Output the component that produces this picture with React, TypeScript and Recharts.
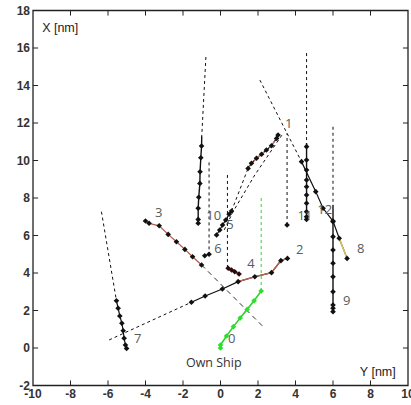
import { ReferenceArea, ReferenceLine, Scatter, ScatterChart, XAxis, YAxis } from "recharts";

// horizontal axis is "Y [nm]" (key y), vertical axis is "X [nm]" (key x)
type Pt = { y: number; x: number };
type Lbl = Pt & { text: string };
const p = (y: number, x: number): Pt => ({ y, x });

const yTicks = [-10, -8, -6, -4, -2, 0, 2, 4, 6, 8, 10];
const xTicks = [-2, 0, 2, 4, 6, 8, 10, 12, 14, 16, 18];

const ownShip = [p(0, 0), p(0, 0.16), p(0.32, 0.64), p(0.69, 1.14), p(1.05, 1.6), p(1.42, 2.06), p(1.79, 2.52), p(2.17, 3.04)];
const ownShipPred = [p(2.17, 3.04), p(2.17, 8.05)];

const t1Pred = [p(3.55, 6.56), p(3.55, 11.45)];
const t1 = [p(3.55, 6.56)];

const t2Pred = [p(-5.94, 0.43), p(-1.55, 2.44)];
const t2 = [p(-1.55, 2.44), p(-0.82, 2.77), p(0.1, 3.15), p(0.94, 3.54), p(1.83, 3.8), p(2.72, 4.02), p(3.22, 4.66), p(3.57, 4.78)];
const t2Brown = [p(0.94, 3.54), p(1.83, 3.8), p(2.72, 4.02), p(3.22, 4.66), p(3.57, 4.78)];

const t3 = [p(-4.0, 6.77), p(-3.81, 6.65), p(-3.27, 6.52), p(-2.79, 6.06), p(-2.35, 5.67), p(-1.9, 5.26), p(-1.49, 4.87), p(-1.01, 4.43)];
const t3Pred = [p(-1.01, 4.43), p(2.27, 1.14)];

const t4Pred = [p(0.37, 9.23), p(0.37, 4.3)];
const t4 = [p(0.41, 4.25), p(0.59, 4.16), p(0.76, 4.07), p(0.99, 3.95)];
const t4Line = [p(0.37, 4.3), p(0.41, 4.25), p(0.59, 4.16), p(0.76, 4.07), p(0.99, 3.95)];

const t5Low = [p(-0.21, 6.03), p(-0.04, 6.29), p(0.11, 6.56), p(0.28, 6.83), p(0.46, 7.13), p(0.59, 7.31)];
const t5Gap = [p(0.59, 7.31), p(1.47, 9.58)];
const t5High = [p(1.47, 9.58), p(1.65, 9.85), p(1.92, 10.12), p(2.19, 10.33), p(2.45, 10.56), p(2.72, 10.79), p(2.99, 11.18), p(3.07, 11.36)];
const t5Pred = [p(0.2, 6.3), p(0.67, 7.27), p(1.83, 9.23), p(3.34, 11.45)];

const t6Pred = [p(-0.61, 9.9), p(-0.61, 5.0)];
const t6 = [p(-0.61, 5.0), p(-0.84, 4.92)];

const t7Pred = [p(-6.35, 7.27), p(-5.55, 2.52)];
const t7 = [p(-5.55, 2.52), p(-5.46, 2.12), p(-5.37, 1.71), p(-5.26, 1.32), p(-5.19, 0.92), p(-5.14, 0.52), p(-5.07, 0.16), p(-5.01, -0.02)];

const t8Pred = [p(2.1, 14.29), p(4.32, 9.94)];
const t8 = [p(4.32, 9.94), p(5.08, 8.34), p(5.47, 7.45), p(6.0, 6.77), p(6.33, 5.85), p(6.75, 4.78)];
const t8Tail = [p(6.33, 5.85), p(6.75, 4.78)];

const t9Pred = [p(6.0, 11.8), p(6.0, 7.63)];
const t9Line = [p(6.0, 7.63), p(6.0, 1.94)];
const t9 = [p(6.0, 6.74), p(6.0, 5.94), p(6.0, 5.23), p(6.0, 4.52), p(6.0, 3.8), p(6.0, 3.0), p(6.0, 2.29), p(6.0, 2.12), p(6.0, 1.94)];

const t10Pred = [p(-0.78, 15.52), p(-1.0, 11.3)];
const t10Line = [p(-1.0, 11.3), p(-1.01, 10.77), p(-1.05, 10.15), p(-1.09, 9.4), p(-1.1, 8.78), p(-1.16, 8.04), p(-1.19, 7.45), p(-1.19, 6.86), p(-1.19, 6.65)];
const t10 = t10Line.slice(1);

const t11Pred = [p(4.59, 15.73), p(4.59, 10.93)];
const t11Line = [p(4.59, 10.93), p(4.59, 6.86)];
const t11 = [10.74, 10.03, 9.49, 8.96, 8.6, 8.16, 7.72, 7.27, 7.0, 6.86].map((x) => p(4.59, x));

const trackLabels: Lbl[] = [
  { y: 0.6, x: 0.53, text: "0" },
  { y: 3.64, x: 12.0, text: "1" },
  { y: 4.23, x: 5.28, text: "2" },
  { y: -3.29, x: 7.25, text: "3" },
  { y: 1.62, x: 4.53, text: "4" },
  { y: 0.5, x: 6.61, text: "5" },
  { y: -0.14, x: 5.33, text: "6" },
  { y: -4.41, x: 0.53, text: "7" },
  { y: 7.48, x: 5.33, text: "8" },
  { y: 6.73, x: 2.56, text: "9" },
  { y: -0.36, x: 7.09, text: "10" },
  { y: 4.5, x: 7.09, text: "11" },
  { y: 5.56, x: 7.41, text: "12" },
];
const shipLabel: Lbl[] = [{ y: -0.36, x: -0.75, text: "Own Ship" }];
const axisTitles: Lbl[] = [
  { y: -8.55, x: 17.07, text: "X [nm]" },
  { y: 8.39, x: -1.28, text: "Y [nm]" },
];

const BLACK = "#111";
const DASH = "3 3";

const diamond = (color: string, r = 2.8) => (props: any) => {
  const { cx, cy } = props;
  return <path d={`M${cx},${cy - r}L${cx + r},${cy}L${cx},${cy + r}L${cx - r},${cy}Z`} fill={color} />;
};
const noMarker = () => <g />;

const lines: { data: Pt[]; stroke: string; dash?: string; width?: number }[] = [
  { data: t1Pred, stroke: BLACK, dash: DASH },
  { data: t2Pred, stroke: BLACK, dash: DASH },
  { data: t2, stroke: BLACK, width: 1.2 },
  { data: t2Brown, stroke: "#b8654e", width: 1.4 },
  { data: t3Pred, stroke: "#333", dash: "5 4" },
  { data: t3, stroke: "#b0604c", width: 1.3 },
  { data: t4Pred, stroke: BLACK, dash: DASH },
  { data: t4Line, stroke: "#5a2020", width: 1.6 },
  { data: t5Pred, stroke: BLACK, dash: DASH },
  { data: t5Gap, stroke: BLACK, dash: DASH },
  { data: t5Low, stroke: BLACK, width: 1.2 },
  { data: t5High, stroke: BLACK, width: 1.2 },
  { data: t5High, stroke: "#d9786a", dash: "3 2", width: 1.4 },
  { data: t6Pred, stroke: BLACK, dash: DASH },
  { data: t6, stroke: BLACK, width: 1.2 },
  { data: t7Pred, stroke: BLACK, dash: DASH },
  { data: t7, stroke: BLACK, width: 1.2 },
  { data: t8Pred, stroke: BLACK, dash: DASH },
  { data: t8, stroke: BLACK, width: 1.2 },
  { data: t8Tail, stroke: "#d8c860", width: 1.4 },
  { data: t9Pred, stroke: BLACK, dash: DASH },
  { data: t9Line, stroke: BLACK, width: 1.4 },
  { data: t10Pred, stroke: BLACK, dash: DASH },
  { data: t10Line, stroke: BLACK, width: 1.4 },
  { data: t11Pred, stroke: BLACK, dash: DASH },
  { data: t11Line, stroke: BLACK, width: 1.4 },
  { data: ownShipPred, stroke: "#2fd42f", dash: DASH },
  { data: ownShip, stroke: "#2fd42f", width: 1.6 },
];

const markers: { data: Pt[]; color: string }[] = [
  { data: t1, color: BLACK },
  { data: t2, color: BLACK },
  { data: t3, color: BLACK },
  { data: t4, color: "#2a0a0a" },
  { data: t5Low, color: BLACK },
  { data: t5High, color: BLACK },
  { data: t6, color: BLACK },
  { data: t7, color: BLACK },
  { data: t8, color: BLACK },
  { data: t9, color: BLACK },
  { data: t10, color: BLACK },
  { data: t11, color: BLACK },
  { data: ownShip, color: "#2be02b" },
];

const TL = 0.27; // inner tick length in data units (~5px)
const tickStyle = { fontSize: 12, fontWeight: 700, fill: "#333", fontFamily: "Liberation Sans, Arial, sans-serif" };

const makeText = (size: number, color: string, family: string) => (props: any) => (
  <text x={props.cx} y={props.cy} textAnchor="middle" dominantBaseline="central" fontSize={size} fill={color} fontFamily={family}>
    {props.payload?.text}
  </text>
);
const trackText = makeText(13, "#5a5a5a", "Open Sans, sans-serif");
const shipText = makeText(12.5, "#333", "Open Sans, sans-serif");
const titleText = makeText(12.5, "#222", "Liberation Sans, Arial, sans-serif");

export default function App() {
  return (
    <div style={{ position: "absolute", left: 0, top: 0 }}>
      <ScatterChart width={411} height={405} margin={{ top: 10.5, right: 3, bottom: 0, left: 8 }}>
        <XAxis type="number" dataKey="y" domain={[-10, 10]} ticks={yTicks} interval={0} height={19.5} axisLine={false} tickLine={false} tickSize={0} tickMargin={4} tick={tickStyle} allowDataOverflow />
        <YAxis type="number" dataKey="x" domain={[-2, 18]} ticks={xTicks} interval={0} width={25} axisLine={false} tickLine={false} tickSize={0} tickMargin={3} tick={tickStyle} allowDataOverflow />
        <ReferenceArea x1={-10} x2={10} y1={-2} y2={18} fill="none" stroke="#222" strokeWidth={1.3} fillOpacity={0} />
        {yTicks.slice(1, -1).map((v) => (
          <ReferenceLine key={`b${v}`} segment={[{ x: v, y: -2 }, { x: v, y: -2 + TL }]} stroke="#222" />
        ))}
        {yTicks.slice(1, -1).map((v) => (
          <ReferenceLine key={`t${v}`} segment={[{ x: v, y: 18 }, { x: v, y: 18 - TL }]} stroke="#222" />
        ))}
        {xTicks.slice(1, -1).map((v) => (
          <ReferenceLine key={`l${v}`} segment={[{ x: -10, y: v }, { x: -10 + TL, y: v }]} stroke="#222" />
        ))}
        {xTicks.slice(1, -1).map((v) => (
          <ReferenceLine key={`r${v}`} segment={[{ x: 10, y: v }, { x: 10 - TL, y: v }]} stroke="#222" />
        ))}
        {lines.map((l, i) => (
          <Scatter
            key={`line${i}`}
            data={l.data}
            line={{ stroke: l.stroke, strokeWidth: l.width ?? 1, strokeDasharray: l.dash }}
            lineType="joint"
            shape={noMarker}
            isAnimationActive={false}
          />
        ))}
        {markers.map((m, i) => (
          <Scatter key={`mk${i}`} data={m.data} shape={diamond(m.color)} isAnimationActive={false} />
        ))}
        <Scatter data={trackLabels} shape={trackText} isAnimationActive={false} />
        <Scatter data={shipLabel} shape={shipText} isAnimationActive={false} />
        <Scatter data={axisTitles} shape={titleText} isAnimationActive={false} />
      </ScatterChart>
    </div>
  );
}
